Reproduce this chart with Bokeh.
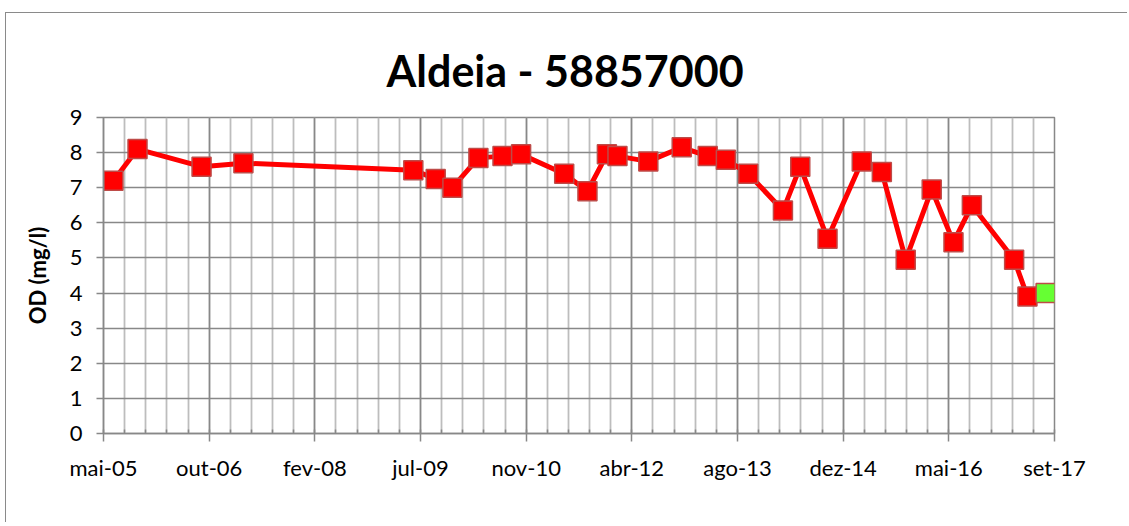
from datetime import datetime, timedelta
import pandas as pd
from bokeh.plotting import figure
from bokeh.models import Range1d, FixedTicker, ColumnDataSource, Title
from bokeh.embed import file_html
from bokeh.resources import INLINE

# ---- data ----
sample_dates = [
    "2005-07-17", "2005-11-08", "2006-09-07", "2007-03-24", "2009-06-05",
    "2009-09-19", "2009-12-07", "2010-04-09", "2010-08-01", "2010-10-28",
    "2011-05-20", "2011-09-07", "2011-12-08", "2012-01-27", "2012-06-21",
    "2012-11-26", "2013-03-29", "2013-06-23", "2013-10-07", "2014-03-20",
    "2014-06-10", "2014-10-17", "2015-03-28", "2015-07-01", "2015-10-22",
    "2016-02-22", "2016-06-04", "2016-08-30", "2017-03-18", "2017-05-20",
]
od_values = [
    7.2, 8.1, 7.6, 7.7, 7.5,
    7.25, 7.0, 7.85, 7.9, 7.95,
    7.4, 6.9, 7.95, 7.9, 7.75,
    8.15, 7.9, 7.8, 7.4, 6.35,
    7.6, 5.55, 7.75, 7.45, 4.95,
    6.95, 5.45, 6.5, 4.95, 3.9,
]
latest_dates = ["2017-08-14"]
latest_values = [4.0]
tick_labels = ["mai-05", "out-06", "fev-08", "jul-09", "nov-10",
               "abr-12", "ago-13", "dez-14", "mai-16", "set-17"]
y_ticks = [0, 1, 2, 3, 4, 5, 6, 7, 8, 9]

# ---- axis geometry ----
axis_start = datetime(2005, 5, 31)
major_days = 500
minor_days = 100
epoch = datetime(1970, 1, 1)

def to_ms(d):
    return (d - epoch).total_seconds() * 1000.0

major_ticks = [to_ms(axis_start + timedelta(days=major_days * k)) for k in range(len(tick_labels))]
minor_ticks = [to_ms(axis_start + timedelta(days=minor_days * k)) for k in range(5 * (len(tick_labels) - 1) + 1)]
overrides = {t: lab for t, lab in zip(major_ticks, tick_labels)}

src = ColumnDataSource(dict(x=pd.to_datetime(sample_dates), y=od_values))
src2 = ColumnDataSource(dict(x=pd.to_datetime(latest_dates), y=latest_values))

FONT = "Lato"
GRID_DARK = "#888888"
GRID_LIGHT = "#bdbdbd"

p = figure(
    width=1122, height=510,
    x_axis_type="datetime",
    x_range=Range1d(start=major_ticks[0], end=major_ticks[-1]),
    y_range=Range1d(0, 9),
    output_backend="svg", toolbar_location=None,
    min_border_left=97, min_border_right=74, min_border_top=104, min_border_bottom=90,
    background_fill_color="white", border_fill_color="white",
)
p.styles = {"margin-top": "12px", "margin-left": "5px",
            "border-top": "1px solid #8a8a8a", "border-left": "1px solid #8a8a8a"}

title = Title(text="Aldeia - 58857000", align="left", offset=283,
              text_font=FONT, text_font_size="43px", text_font_style="bold",
              text_color="black", standoff=43)
p.add_layout(title, "above")

# frame outline
p.outline_line_color = GRID_DARK
p.outline_line_width = 1.5

xt = FixedTicker(ticks=major_ticks, minor_ticks=minor_ticks)
p.xaxis.ticker = xt
p.xgrid.ticker = xt
p.xaxis.major_label_overrides = overrides
p.xgrid.grid_line_color = GRID_DARK
p.xgrid.grid_line_width = 1.5
p.xgrid.minor_grid_line_color = GRID_LIGHT
p.xgrid.minor_grid_line_width = 1.8

yt = FixedTicker(ticks=y_ticks, minor_ticks=[])
p.yaxis.ticker = yt
p.ygrid.ticker = yt
p.ygrid.grid_line_color = GRID_DARK
p.ygrid.grid_line_width = 1.5

for ax in (p.xaxis, p.yaxis):
    ax.axis_line_color = GRID_DARK
    ax.axis_line_width = 1.5
    ax.major_tick_line_color = GRID_DARK
    ax.major_tick_line_width = 1.5
    ax.minor_tick_line_color = GRID_DARK
    ax.minor_tick_line_width = 1.5
    ax.major_label_text_font = FONT
    ax.major_label_text_font_size = "22px"
    ax.major_label_text_color = "black"

p.xaxis.major_tick_out = 8
p.xaxis.major_tick_in = 0
p.xaxis.minor_tick_in = 4
p.xaxis.minor_tick_out = 0
p.xaxis.major_label_standoff = 12

p.yaxis.major_tick_out = 7
p.yaxis.major_tick_in = 0
p.yaxis.minor_tick_in = 0
p.yaxis.minor_tick_out = 0
p.yaxis.major_label_standoff = 14
p.yaxis.axis_label = "OD (mg/l)"
p.yaxis.axis_label_text_font = FONT
p.yaxis.axis_label_text_font_size = "22px"
p.yaxis.axis_label_text_font_style = "bold"
p.yaxis.axis_label_text_color = "black"
p.yaxis.axis_label_standoff = 16

p.line("x", "y", source=src, line_color="#ff0000", line_width=5, line_join="round")
p.scatter("x", "y", source=src, marker="square", size=19,
          fill_color="#ff0000", line_color="#be4b48", line_width=1.5)
p.scatter("x", "y", source=src2, marker="square", size=19,
          fill_color="#66ff33", line_color="#be4b48", line_width=1.5)

open("out.html", "w").write(file_html(p, INLINE))
